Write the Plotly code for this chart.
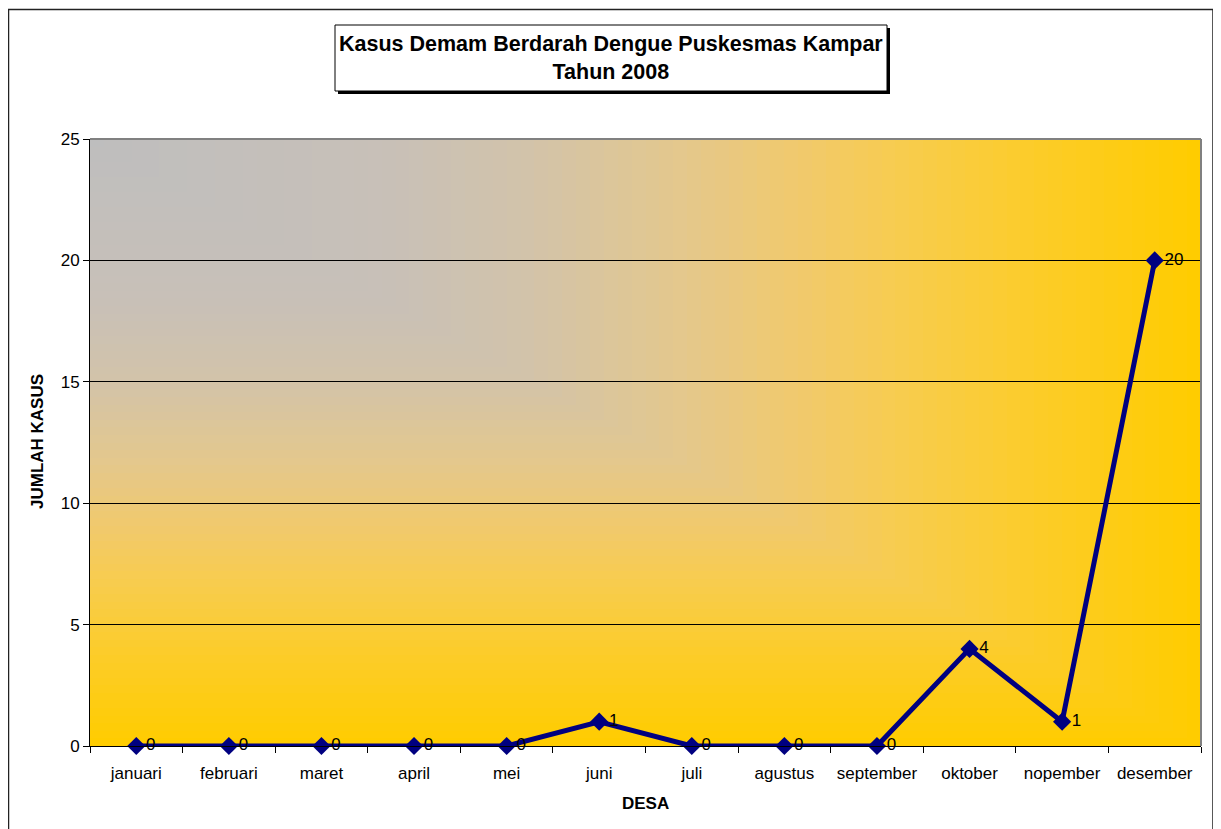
import base64
import plotly.graph_objects as go

# ---- data ----
months = ["januari", "februari", "maret", "april", "mei", "juni",
          "juli", "agustus", "september", "oktober", "nopember", "desember"]
cases = [0, 0, 0, 0, 0, 1, 0, 0, 0, 4, 1, 20]
y_ticks = [0, 5, 10, 15, 20, 25]

title_text = "Kasus Demam Berdarah Dengue Puskesmas Kampar<br>Tahun 2008"
x_title = "DESA"
y_title = "JUMLAH KASUS"

FONT = "Liberation Sans, Arial, sans-serif"
NAVY = "#000080"

# ---- geometry (reference pixels; page body adds an 8px offset) ----
OFF = 8
W, H = 1221 - OFF, 829 - OFF
PL, PR, PT, PB = 90 - OFF, 1201 - OFF, 139 - OFF, 746 - OFF


def px(x):
    return (x - OFF - PL) / (PR - PL)


def py(y):
    return (PB - (y - OFF)) / (PB - PT)


# ---- "from corner" gradient background as an SVG image ----
stops = [(0.0, (190, 190, 190)), (0.27, (200, 192, 184)), (0.4, (210, 195, 170)),
         (0.54, (228, 200, 140)), (0.64, (240, 201, 110)), (0.73, (247, 204, 80)),
         (0.86, (252, 204, 40)), (1.0, (255, 204, 0))]


def col(s):
    for (s0, c0), (s1, c1) in zip(stops[:-1], stops[1:]):
        if s0 <= s <= s1:
            t = (s - s0) / (s1 - s0)
            return "rgb(%d,%d,%d)" % tuple(round(a + (b - a) * t) for a, b in zip(c0, c1))
    return "rgb(255,204,0)"


N = 80
rects = []
for i in range(N):
    s = 1 - i / N
    rects.append('<rect x="0" y="0" width="%.3f" height="%.3f" fill="%s"/>' % (100 * s, 100 * s, col(s)))
svg = ('<svg xmlns="http://www.w3.org/2000/svg" width="100" height="100" viewBox="0 0 100 100" '
       'preserveAspectRatio="none" shape-rendering="crispEdges">' + "".join(rects) + "</svg>")
svg_uri = "data:image/svg+xml;base64," + base64.b64encode(svg.encode()).decode()

fig = go.Figure()
fig.add_trace(go.Scatter(
    x=months, y=cases, mode="lines+markers+text",
    line=dict(color=NAVY, width=5),
    marker=dict(symbol="diamond", size=14, color=NAVY),
    text=[str(v) for v in cases], textposition="middle right",
    textfont=dict(family=FONT, size=17, color="black"),
    cliponaxis=False, showlegend=False, hoverinfo="x+y",
))

shapes = [
    # outer chart frame + shadow
    dict(type="rect", xref="paper", yref="paper", x0=px(1214), x1=px(1218), y0=py(840), y1=py(13),
         fillcolor="black", line=dict(width=0), layer="below"),
    dict(type="rect", xref="paper", yref="paper", x0=px(8.5), x1=px(1213), y0=py(840), y1=py(9.5),
         fillcolor="rgba(0,0,0,0)", line=dict(color="#222222", width=1.5), layer="below"),
    # title box + shadow
    dict(type="rect", xref="paper", yref="paper", x0=px(338), x1=px(890), y0=py(94), y1=py(28),
         fillcolor="black", line=dict(width=0), layer="below"),
    dict(type="rect", xref="paper", yref="paper", x0=px(335), x1=px(887), y0=py(91), y1=py(25),
         fillcolor="white", line=dict(color="black", width=1), layer="below"),
    # grey plot-area border on top and right
    dict(type="line", xref="paper", yref="paper", x0=0, x1=1, y0=1, y1=1,
         line=dict(color="#808080", width=2), layer="above"),
    dict(type="line", xref="paper", yref="paper", x0=1, x1=1, y0=0, y1=1,
         line=dict(color="#808080", width=2), layer="above"),
]

annotations = [
    dict(xref="paper", yref="paper", x=px(611), y=py(58),
         text="<b>%s</b>" % title_text.replace("<br>", "</b><br><b>"),
         showarrow=False, xanchor="center", yanchor="middle", align="center",
         font=dict(family=FONT, size=21.5, color="black")),
    dict(xref="paper", yref="paper", x=0.5, y=py(803), text="<b>%s</b>" % x_title,
         showarrow=False, xanchor="center", yanchor="middle",
         font=dict(family=FONT, size=17, color="black")),
    dict(xref="paper", yref="paper", x=px(37), y=py(442), text="<b>%s</b>" % y_title,
         showarrow=False, xanchor="center", yanchor="middle", textangle=-90,
         font=dict(family=FONT, size=17, color="black")),
]

fig.update_layout(
    width=W, height=H,
    margin=dict(l=PL, r=W - PR, t=PT, b=H - PB, pad=0),
    paper_bgcolor="white", plot_bgcolor="rgba(0,0,0,0)",
    font=dict(family=FONT, size=17, color="black"),
    images=[dict(source=svg_uri, xref="paper", yref="paper", x=0, y=1, sizex=1, sizey=1,
                 xanchor="left", yanchor="top", sizing="stretch", layer="below")],
    shapes=shapes, annotations=annotations,
    xaxis=dict(type="category", range=[-0.5, 11.5], showgrid=False, zeroline=False,
               showline=True, linecolor="black", linewidth=1,
               ticks="outside", tickson="boundaries", ticklen=6, tickcolor="black",
               tickfont=dict(family=FONT, size=17, color="black"), ticklabelstandoff=12),
    yaxis=dict(range=[0, 25], tickvals=y_ticks, showgrid=True, gridcolor="black", gridwidth=1,
               zeroline=False, showline=True, linecolor="black", linewidth=1,
               ticks="outside", ticklen=6, tickcolor="black",
               tickfont=dict(family=FONT, size=17, color="black")),
)

fig.write_html("out.html")
